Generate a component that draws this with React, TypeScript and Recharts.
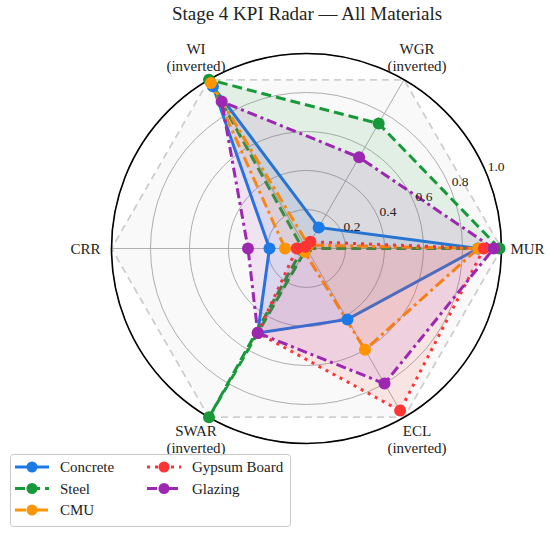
import React from 'react';
import {
  RadarChart,
  Radar,
  PolarGrid,
  PolarAngleAxis,
  PolarRadiusAxis,
  Legend,
} from 'recharts';

// --- data ---
const axes = ['MUR', 'WGR (inverted)', 'WI (inverted)', 'CRR', 'SWAR (inverted)', 'ECL (inverted)'];
const concrete = [0.88, 0.125, 0.96, 0.19, 0.5, 0.42];
const steel = [0.99, 0.74, 1.0, 0.02, 1.0, 0.0];
const cmu = [0.88, 0.02, 0.98, 0.11, 0.02, 0.6];
const gypsum = [0.91, 0.04, 0.01, 0.05, 0.5, 0.96];
const glazing = [0.96, 0.54, 0.87, 0.3, 0.5, 0.8];
const radiusTicks = [0, 0.2, 0.4, 0.6, 0.8, 1.0];

const chartData = axes.map((axis, i) => ({
  axis,
  Concrete: concrete[i],
  Steel: steel[i],
  CMU: cmu[i],
  'Gypsum Board': gypsum[i],
  Glazing: glazing[i],
}));

const series = [
  { key: 'Concrete', color: '#1a7ae6', dash: undefined },
  { key: 'Steel', color: '#17993a', dash: '10 5' },
  { key: 'CMU', color: '#ff9500', dash: '11 4 3 4' },
  { key: 'Gypsum Board', color: '#ff3535', dash: '3 5' },
  { key: 'Glazing', color: '#9c27b0', dash: '10 4 3 4' },
];

const CX = 306.5;
const CY = 248.5;
const R = 195;
const LABEL_R = 221;
const FONT = '"Liberation Serif", "DejaVu Serif", serif';

// labels placed by axis order: MUR at 0°, then counter-clockwise every 60°
const AngleTick = (props: any) => {
  const { payload } = props;
  const idx = axes.indexOf(String(payload.value));
  const angle = (idx * 60 * Math.PI) / 180;
  const x = CX + LABEL_R * Math.cos(angle);
  const y = CY - LABEL_R * Math.sin(angle);
  const parts = String(payload.value).split(' ');
  const lineH = 17;
  const y0 = y - ((parts.length - 1) * lineH) / 2;
  return (
    <text x={x} y={y0} textAnchor="middle" dominantBaseline="central" fontSize={15} fill="#222" fontFamily={FONT}>
      {parts.map((p, i) => (
        <tspan key={i} x={x} y={y0 + i * lineH} dominantBaseline="central">
          {p}
        </tspan>
      ))}
    </text>
  );
};

// radial labels sit at 22.5°, just outside each ring
const RadiusTick = (props: any) => {
  const { payload } = props;
  const v = Number(payload.value);
  if (v <= 0) return <g />;
  const a = (22.5 * Math.PI) / 180;
  const x = CX + v * R * Math.cos(a);
  const y = CY - v * R * Math.sin(a);
  return (
    <text x={x + 1} y={y - 2.5} textAnchor="start" fontSize={13.5} fill="#222" fontFamily={FONT}>
      {v.toFixed(1)}
    </text>
  );
};

const LegendBox = () => {
  const items = [
    { s: series[0], col: 0, row: 0 },
    { s: series[1], col: 0, row: 1 },
    { s: series[2], col: 0, row: 2 },
    { s: series[3], col: 1, row: 0 },
    { s: series[4], col: 1, row: 1 },
  ];
  return (
    <svg width={282} height={74} style={{ display: 'block' }}>
      <rect x={0.5} y={0.5} width={280} height={72} rx={3} fill="#fff" fillOpacity={0.85} stroke="#c8c8c8" />
      {items.map(({ s, col, row }) => {
        const x0 = col === 0 ? 5 : 137;
        const y = 13 + row * 21.5;
        return (
          <g key={s.key}>
            <line x1={x0} y1={y} x2={x0 + 34} y2={y} stroke={s.color} strokeWidth={3} strokeDasharray={s.dash} />
            <circle cx={x0 + 17} cy={y} r={5.5} fill={s.color} />
            <text x={x0 + 45} y={y + 5} fontSize={15} fill="#222" fontFamily={FONT}>
              {s.key}
            </text>
          </g>
        );
      })}
    </svg>
  );
};

export default function App() {
  return (
    <div style={{ position: 'absolute', left: 0, top: 0, width: 550, height: 535, background: '#fff', fontFamily: FONT }}>
      <div style={{ position: 'absolute', left: 0, top: 3, width: 614, textAlign: 'center', fontSize: 19, color: '#222' }}>
        Stage 4 KPI Radar — All Materials
      </div>
      <RadarChart width={550} height={535} data={chartData} cx={CX} cy={CY} outerRadius={R} startAngle={-60} endAngle={300}>
        <PolarGrid gridType="circle" polarRadius={radiusTicks.slice(1).map((t) => t * R)} stroke="#b3b3b3" strokeWidth={1} />
        <PolarGrid
          gridType="polygon"
          polarRadius={[R]}
          radialLines={false}
          stroke="#cfcfcf"
          strokeWidth={1.5}
          strokeDasharray="7 5"
          fill="#000"
          fillOpacity={0.025}
        />
        <PolarGrid gridType="circle" polarRadius={[R]} radialLines={false} stroke="#000" strokeWidth={1.6} />
        <PolarAngleAxis dataKey="axis" tick={AngleTick} axisLine={false} tickLine={false} />
        <PolarRadiusAxis domain={[0, 1]} ticks={radiusTicks as any} tickCount={6} angle={22.5} axisLine={false} tick={RadiusTick} />
        {series.map((s) => (
          <Radar
            key={s.key}
            name={s.key}
            dataKey={s.key}
            stroke={s.color}
            strokeWidth={3}
            strokeDasharray={s.dash}
            fill={s.color}
            fillOpacity={0.1}
            dot={(p: any) => <circle key={`${s.key}-${p.index}`} cx={p.cx} cy={p.cy} r={6} fill={s.color} />}
            isAnimationActive={false}
          />
        ))}
        <Legend content={LegendBox} wrapperStyle={{ left: 10, top: 454, width: 282 }} />
      </RadarChart>
    </div>
  );
}
